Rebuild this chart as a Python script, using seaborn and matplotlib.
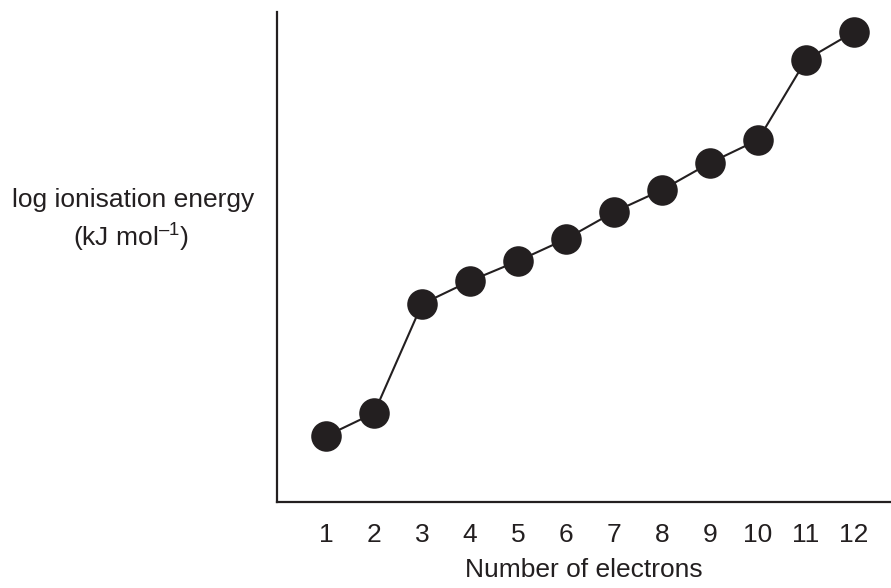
import matplotlib
matplotlib.use('Agg')
import matplotlib.pyplot as plt
import seaborn as sns
import pandas as pd

# 电子数与对应的 log 电离能（无刻度，按图中位置估读）
electrons = [1, 2, 3, 4, 5, 6, 7, 8, 9, 10, 11, 12]
log_ie = [0.66, 0.89, 1.98, 2.21, 2.41, 2.63, 2.90, 3.12, 3.39, 3.62, 4.42, 4.70]

sns.set_theme(style='white')
plt.rcParams['font.family'] = ['Liberation Sans', 'DejaVu Sans']
plt.rcParams['mathtext.fontset'] = 'custom'
plt.rcParams['mathtext.rm'] = 'Liberation Sans'
plt.rcParams['mathtext.it'] = 'Liberation Sans'

df = pd.DataFrame({'Electrons': electrons, 'LogIE': log_ie})
ink = '#231f20'
fs = 19

fig = plt.figure(figsize=(8.91, 5.88), dpi=100)
ax = fig.add_axes([0.311, 0.146, 0.689, 0.834])
sns.lineplot(data=df, x='Electrons', y='LogIE', ax=ax, color=ink, linewidth=1.5,
             marker='o', markersize=22, markeredgewidth=0, markerfacecolor=ink)

ax.set_xlim(-0.02, 12.77)
ax.set_ylim(0, 4.90)
ax.set_xticks(electrons)
ax.set_xticklabels([str(e) for e in electrons], fontsize=fs, color=ink)
ax.set_yticks([])
ax.tick_params(axis='x', length=0, pad=15)
ax.set_xlabel('Number of electrons', fontsize=fs, color=ink, labelpad=8)
ax.set_ylabel('')
for side in ['top', 'right']:
    ax.spines[side].set_visible(False)
for side in ['left', 'bottom']:
    ax.spines[side].set_color(ink)
    ax.spines[side].set_linewidth(1.6)

fig.text(0.149, 0.66, 'log ionisation energy', ha='center', va='center',
         fontsize=fs, color=ink)
fig.text(0.147, 0.595, '(kJ mol$^{\u2013\\mathregular{1}}$)', ha='center', va='center',
         fontsize=fs, color=ink)

fig.savefig('out.png', dpi=100)
